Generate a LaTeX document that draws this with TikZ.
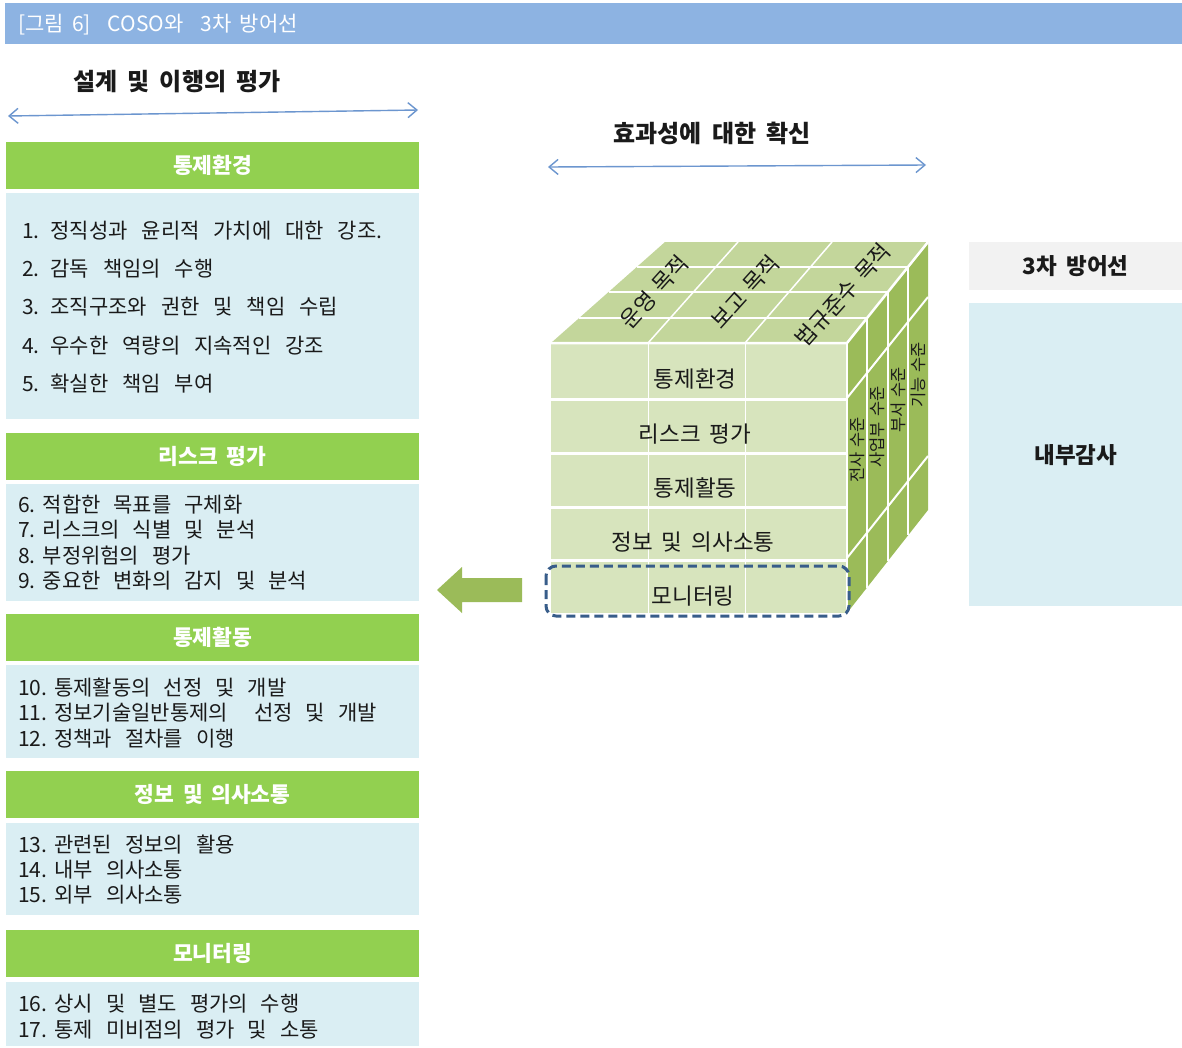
\documentclass[tikz,border=0pt]{standalone}
\usepackage{fontspec}
\setmainfont{Noto Sans CJK KR}
\usetikzlibrary{arrows.meta}
\definecolor{titlebar}{HTML}{8DB3E2}
\definecolor{hdrgreen}{HTML}{92D050}
\definecolor{bodyblue}{HTML}{DAEEF3}
\definecolor{paleg}{HTML}{F2F2F2}
\definecolor{frontg}{HTML}{D7E4BD}
\definecolor{topg}{HTML}{C3D69B}
\definecolor{sideg}{HTML}{9BBB59}
\definecolor{dashblue}{HTML}{385D8A}
\definecolor{arrowblue}{HTML}{6C96CF}
\definecolor{txt}{HTML}{1A1A1A}
\newcommand\fsz[2]{\fontsize{#1}{#1}\selectfont\spaceskip=#2em\relax}
\newcommand\ngap[1]{\hspace{#1pt}}
\begin{document}
\begin{tikzpicture}[x=1pt,y=-1pt,
  hdr/.style={fill=hdrgreen, text=white, anchor=north west, minimum width=413, minimum height=47, inner sep=0, font=\bfseries\fsz{21.5}{0.4}},
  bodybox/.style={fill=bodyblue, anchor=north west, minimum width=413, inner sep=0},
  itemA/.style={anchor=west, inner sep=0, text=txt, font=\fsz{21}{0.66}},
  item/.style={anchor=west, inner sep=0, text=txt, font=\fsz{21}{0.62}},
  head/.style={text=txt, inner sep=0, font=\bfseries\fsz{24}{0.42}},
  barrow/.style={arrowblue, line width=1.4, {Straight Barb[length=9pt,width=15pt]}-{Straight Barb[length=9pt,width=15pt]}},
  cubetxt/.style={text=txt, inner sep=0, font=\fsz{22.5}{0.4}},
  toptxt/.style={text=txt, inner sep=0, rotate=48, font=\fsz{22}{0.35}},
  sidetxt/.style={text=txt, inner sep=0, rotate=90, font=\fsz{16.5}{0.3}},
  gridw/.style={white, line width=2},
  rightbox/.style={anchor=north west, minimum width=213, inner sep=0, text=txt, font=\bfseries\fsz{22.5}{0.4}}
]
\useasboundingbox (0,0) rectangle (1182,1047);
\fill[white] (0,0) rectangle (1182,1047);
% title bar
\fill[titlebar] (5,3) rectangle (1182,44);
\node[anchor=west, inner sep=0, text=white, font=\fsz{21}{0.4}] (title) at (18,25) {[그림 6]\ \ COSO와\ \ 3차 방어선};

% left headings and arrows
\node[head] (lhead) at (177,82) {설계 및 이행의 평가};
\coordinate (a1l) at (8,116);
\coordinate (a1r) at (418,110);
\draw[barrow] (a1l) -- (a1r);

\node[head] (chead) at (712,133) {효과성에 대한 확신};
\coordinate (a2l) at (548,167);
\coordinate (a2r) at (926,165);
\draw[barrow] (a2l) -- (a2r);

% left panel
\node[hdr] (h1) at (6,142) {통제환경};
\node[bodybox, minimum height=226] (b1) at (6,193) {};
\node[itemA] (i1) at (22,231) {1.\ngap{11}정직성과 윤리적 가치에 대한 강조.};
\node[itemA] (i2) at (22,269) {2.\ngap{11}감독 책임의 수행};
\node[itemA] (i3) at (22,307) {3.\ngap{11}조직구조와 권한 및 책임 수립};
\node[itemA] (i4) at (22,346) {4.\ngap{11}우수한 역량의 지속적인 강조};
\node[itemA] (i5) at (22,384) {5.\ngap{11}확실한 책임 부여};

\node[hdr] (h2) at (6,433) {리스크 평가};
\node[bodybox, minimum height=117] (b2) at (6,484) {};
\node[item] (i6) at (18,505) {6.\ngap{7}적합한 목표를 구체화};
\node[item] (i7) at (18,530) {7.\ngap{7}리스크의 식별 및 분석};
\node[item] (i8) at (18,556) {8.\ngap{7}부정위험의 평가};
\node[item] (i9) at (18,581) {9.\ngap{7}중요한 변화의 감지 및 분석};

\node[hdr] (h3) at (6,614) {통제활동};
\node[bodybox, minimum height=93] (b3) at (6,665) {};
\node[item] (i10) at (18,688) {10.\ngap{7}통제활동의 선정 및 개발};
\node[item] (i11) at (18,713) {11.\ngap{7}정보기술일반통제의\ \ 선정 및 개발};
\node[item] (i12) at (18,739) {12.\ngap{7}정책과 절차를 이행};

\node[hdr] (h4) at (6,771) {정보 및 의사소통};
\node[bodybox, minimum height=92] (b4) at (6,823) {};
\node[item] (i13) at (18,845) {13.\ngap{7}관련된 정보의 활용};
\node[item] (i14) at (18,870) {14.\ngap{7}내부 의사소통};
\node[item] (i15) at (18,895) {15.\ngap{7}외부 의사소통};

\node[hdr] (h5) at (6,930) {모니터링};
\node[bodybox, minimum height=64] (b5) at (6,982) {};
\node[item] (i16) at (18,1004) {16.\ngap{7}상시 및 별도 평가의 수행};
\node[item] (i17) at (18,1030) {17.\ngap{7}통제 미비점의 평가 및 소통};

% cube faces
\fill[frontg] (551,343) rectangle (847,613);
\fill[topg] (551,343) -- (665,242) -- (928,242) -- (847,343) -- cycle;
\fill[sideg] (847,343) -- (928,242) -- (928,510) -- (847,613) -- cycle;
% top grid
\draw[gridw, line width=1.5] (579.2,318) -- (867,318);
\draw[gridw, line width=1.5] (608.6,292) -- (887.9,292);
\draw[gridw, line width=1.5] (636.8,267) -- (908,267);
\draw[gridw, line width=1.5] (648,343) -- (738,242);
\draw[gridw, line width=1.5] (745,343) -- (832,242);
% right grid
\draw[gridw, line width=1.5] (867,318.1) -- (867,587.6);
\draw[gridw, line width=1.5] (888,291.9) -- (888,560.9);
\draw[gridw, line width=1.5] (908,266.9) -- (908,535.4);
\draw[gridw] (847,398) -- (928,297);
\draw[gridw] (847,558) -- (928,456);
% front grid
\draw[white, line width=1] (648,343) -- (648,613);
\draw[white, line width=1] (745,343) -- (745,613);
\foreach \yy in {399,453,507,560} \draw[white, line width=3] (551,\yy) -- (847,\yy);
% cube edges
\draw[white, line width=2.5] (551,343) -- (847,343) -- (928,242);
\draw[white, line width=2.5] (847,343) -- (847,613);

% cube texts
\node[cubetxt] (c1) at (695,379) {통제환경};
\node[cubetxt] (c2) at (695,434) {리스크 평가};
\node[cubetxt] (c3) at (695,488) {통제활동};
\node[cubetxt] (c4) at (693,542) {정보 및 의사소통};
\node[cubetxt] (c5) at (693,596) {모니터링};
\node[toptxt] (t1) at (654,292) {운영 목적};
\node[toptxt] (t2) at (745,292) {보고 목적};
\node[toptxt] (t3) at (843,295) {법규준수 목적};
\node[sidetxt] (s1) at (857,450) {전사 수준};
\node[sidetxt] (s2) at (877,427) {사업부 수준};
\node[sidetxt] (s3) at (898,400) {부서 수준};
\node[sidetxt] (s4) at (918,375) {기능 수준};

% dashed highlight
\draw[dashblue, line width=3, dash pattern=on 9pt off 5pt, rounded corners=10] (546,566) rectangle (849,616);

% green arrow
\fill[sideg] (522,578) -- (462,578) -- (462,567) -- (437,590) -- (462,613) -- (462,602) -- (522,602) -- cycle;

% right boxes
\node[rightbox, fill=paleg, minimum height=48] (lod) at (969,242) {3차 방어선};
\node[rightbox, fill=bodyblue, minimum height=303] (ia) at (969,303) {내부감사};
\end{tikzpicture}
\end{document}
